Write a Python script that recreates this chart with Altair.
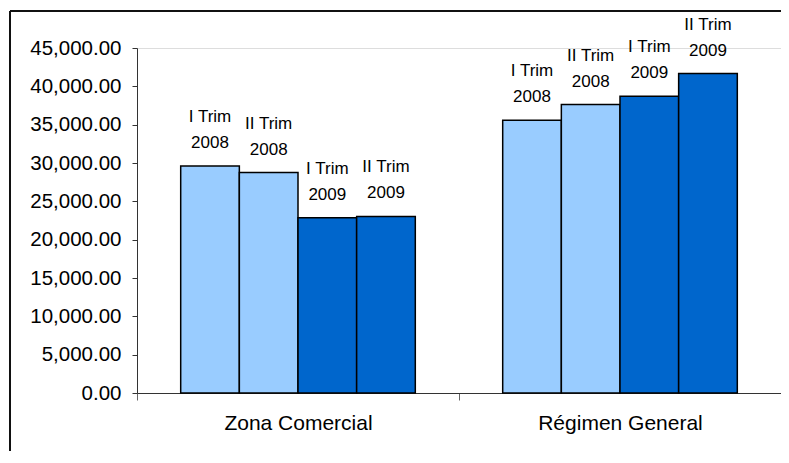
import altair as alt
import pandas as pd

categories = ["Zona Comercial", "Régimen General"]
periods = ["I Trim 2008", "II Trim 2008", "I Trim 2009", "II Trim 2009"]
period_labels = ["I Trim\n2008", "II Trim\n2008", "I Trim\n2009", "II Trim\n2009"]
years = ["2008", "2008", "2009", "2009"]
zona_values = [29620, 28760, 22850, 23030]
regimen_values = [35580, 37620, 38710, 41660]

rows = []
for cat, vals in zip(categories, [zona_values, regimen_values]):
    for p, lab, yr, v in zip(periods, period_labels, years, vals):
        rows.append({"cat": cat, "period": p, "label": lab, "year": yr, "value": v})
df = pd.DataFrame(rows)

x_enc = alt.X("cat:N", sort=categories, title=None,
              scale=alt.Scale(paddingInner=0, paddingOuter=0),
              axis=alt.Axis(labelAngle=0, labelFontSize=21, labelFont="Liberation Sans",
                            labelColor="#000", tickBand="extent", tickSize=7,
                            tickColor="#666", domainColor="#333", labelPadding=12))
xo_enc = alt.XOffset("period:N", sort=periods,
                     scale=alt.Scale(paddingInner=0, paddingOuter=0.745))
y_enc = alt.Y("value:Q", title=None,
              scale=alt.Scale(domain=[0, 45000], nice=False),
              axis=alt.Axis(values=list(range(0, 45001, 5000)), format=",.2f",
                            grid=False, labelFontSize=20.5, labelFont="Liberation Sans",
                            labelColor="#000", tickSize=5, tickColor="#333",
                            domainColor="#333", labelPadding=11))

base = alt.Chart(df)

bars = base.mark_bar(stroke="#000", strokeWidth=1.5).encode(
    x=x_enc, xOffset=xo_enc, y=y_enc,
    color=alt.Color("year:N", scale=alt.Scale(domain=["2008", "2009"],
                                              range=["#99CCFF", "#0066CC"]), legend=None),
)

labels = base.mark_text(lineBreak="\n", fontSize=17, font="Liberation Sans",
                        baseline="bottom", dy=-40, lineHeight=26, color="#000").encode(
    x=x_enc, xOffset=xo_enc, y=y_enc, text="label:N")

frame_df = pd.DataFrame({"k": [0]})
frame_top = alt.Chart(frame_df).mark_rule(color="#111", strokeWidth=2).encode(
    x=alt.value(-127), x2=alt.value(660), y=alt.value(-37))
frame_left = alt.Chart(frame_df).mark_rule(color="#111", strokeWidth=2).encode(
    x=alt.value(-127), y=alt.value(-37), y2=alt.value(420))

chart = alt.layer(bars, labels, frame_top, frame_left).properties(
    width=644, height=345,
    autosize=alt.AutoSizeParams(type="none"),
    padding={"left": 129, "top": 40, "right": 0, "bottom": 58},
).configure_view(stroke=None).configure(background="white")

chart.save("out.html", embed_options={"renderer": "svg", "actions": False})
